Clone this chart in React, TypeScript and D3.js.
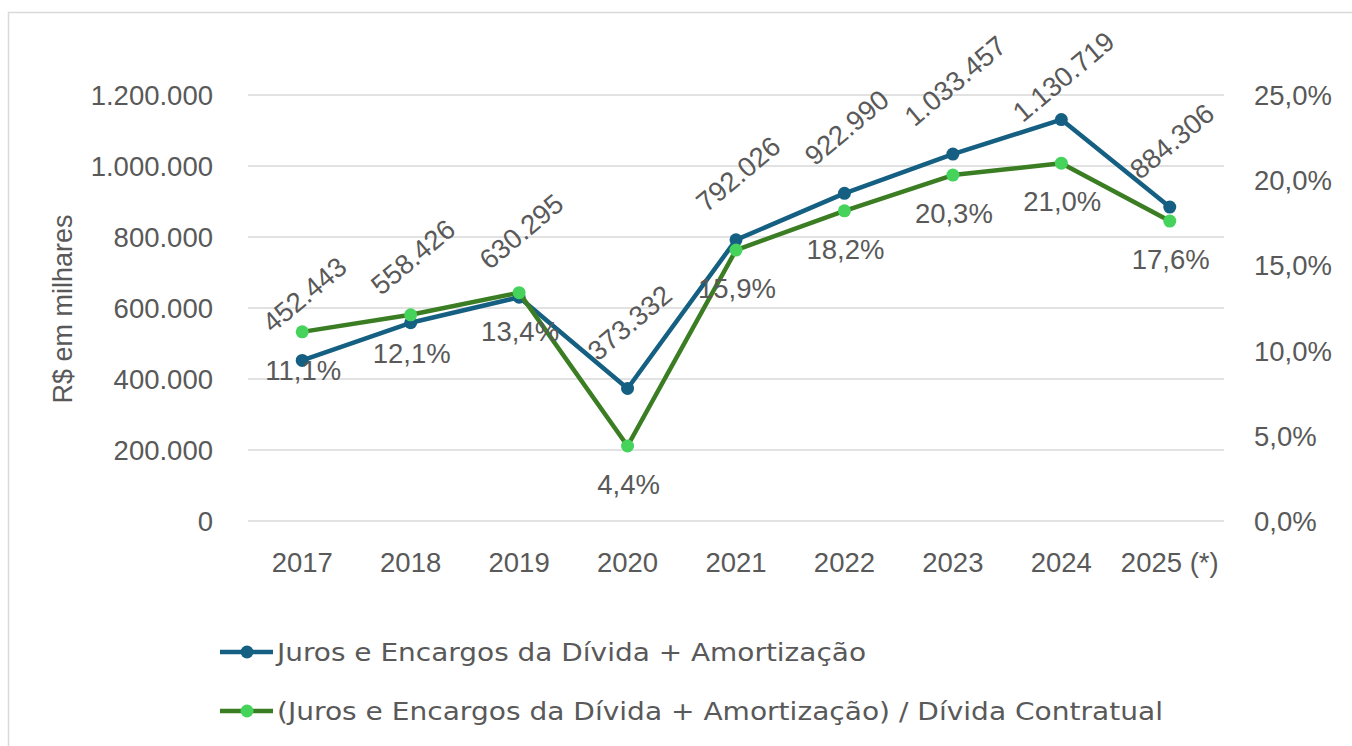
import React from "react";
import * as d3 from "d3";

const categories = ["2017", "2018", "2019", "2020", "2021", "2022", "2023", "2024", "2025 (*)"];
const valores = [452443, 558426, 630295, 373332, 792026, 922990, 1033457, 1130719, 884306];
const percentuais = [11.1, 12.1, 13.4, 4.4, 15.9, 18.2, 20.3, 21.0, 17.6];
const leftTicks = [0, 200000, 400000, 600000, 800000, 1000000, 1200000];
const rightTicks = [0, 5, 10, 15, 20, 25];
const serieNomes = [
  "Juros e Encargos da Dívida + Amortização",
  "(Juros e Encargos da Dívida + Amortização) / Dívida Contratual",
];

const W = 1352;
const H = 746;
const plotLeft = 248;
const plotRight = 1224;
const plotTop = 95;
const plotBottom = 521;

const BLUE = "#156082";
const GREEN_LINE = "#3b7d23";
const GREEN_MARK = "#45d35c";
const TXT = "#595959";
const GRID = "#d9d9d9";
const FONT = "'Liberation Sans', Arial, sans-serif";
const LFONT = "'DejaVu Sans', 'Open Sans', sans-serif";
const FS = 27.5;
const ANG = 40;

const fmtInt = (v: number) => d3.format(",d")(v).replace(/,/g, ".");
const fmtPct = (v: number) => v.toFixed(1).replace(".", ",") + "%";

function labelOffset(s: string) {
  let w = 0;
  for (const ch of s) w += ch === "." ? 0.278 : 0.556;
  w *= FS;
  const h = FS * 1.15;
  const a = (ANG * Math.PI) / 180;
  return (w * Math.sin(a) + h * Math.cos(a)) / 2;
}

export default function App() {
  const x = d3.scalePoint<string>().domain(categories).range([plotLeft, plotRight]).padding(0.5);
  const yL = d3.scaleLinear().domain([0, 1200000]).range([plotBottom, plotTop]);
  const yR = d3.scaleLinear().domain([0, 25]).range([plotBottom, plotTop]);

  const blueLine = d3
    .line<number>()
    .x((_, i) => x(categories[i])!)
    .y((d) => yL(d));
  const greenLine = d3
    .line<number>()
    .x((_, i) => x(categories[i])!)
    .y((d) => yR(d));

  return (
    <svg width={W} height={H} style={{ position: "absolute", left: 0, top: 0, background: "#fff" }}>
      <rect x={8.5} y={12.5} width={1400} height={800} fill="#fff" stroke={GRID} strokeWidth={1.5} />
      {leftTicks.map((t) => (
        <line key={t} x1={plotLeft} x2={plotRight} y1={yL(t)} y2={yL(t)} stroke={GRID} strokeWidth={1.5} />
      ))}
      {leftTicks.map((t) => (
        <text key={"l" + t} x={213} y={yL(t)} dy="0.36em" textAnchor="end" fontFamily={FONT} fontSize={FS} fill={TXT}>
          {fmtInt(t)}
        </text>
      ))}
      {rightTicks.map((t) => (
        <text key={"r" + t} x={1254} y={yR(t)} dy="0.36em" textAnchor="start" fontFamily={FONT} fontSize={FS} fill={TXT}>
          {fmtPct(t)}
        </text>
      ))}
      <text transform={`translate(72,309) rotate(-90)`} textAnchor="middle" fontFamily={FONT} fontSize={27} fill={TXT}>
        R$ em milhares
      </text>
      {categories.map((c) => (
        <text key={c} x={x(c)} y={562} dy="0.36em" textAnchor="middle" fontFamily={FONT} fontSize={FS} fill={TXT}>
          {c}
        </text>
      ))}

      <path d={blueLine(valores)!} fill="none" stroke={BLUE} strokeWidth={4.5} strokeLinejoin="round" />
      {valores.map((v, i) => (
        <circle key={"b" + i} cx={x(categories[i])} cy={yL(v)} r={6.5} fill={BLUE} />
      ))}
      <path d={greenLine(percentuais)!} fill="none" stroke={GREEN_LINE} strokeWidth={4.5} strokeLinejoin="round" />
      {percentuais.map((v, i) => (
        <circle key={"g" + i} cx={x(categories[i])} cy={yR(v)} r={6.5} fill={GREEN_MARK} />
      ))}

      {valores.map((v, i) => {
        const s = fmtInt(v);
        const half = labelOffset(s);
        const cy = Math.max(yL(v) - half - 22, half + 25);
        return (
          <text
            key={"vl" + i}
            transform={`translate(${x(categories[i])! + 2},${cy}) rotate(-${ANG})`}
            textAnchor="middle"
            dy="0.36em"
            fontFamily={FONT}
            fontSize={FS}
            fill={TXT}
          >
            {s}
          </text>
        );
      })}
      {percentuais.map((v, i) => (
        <text
          key={"pl" + i}
          x={x(categories[i])! + 1}
          y={yR(v) + 38}
          dy="0.36em"
          textAnchor="middle"
          fontFamily={FONT}
          fontSize={FS}
          fill={TXT}
        >
          {fmtPct(v)}
        </text>
      ))}

      {serieNomes.map((n, i) => {
        const ly = 652 + i * 59;
        return (
          <g key={n}>
            <line x1={220} x2={273} y1={ly} y2={ly} stroke={i === 0 ? BLUE : GREEN_LINE} strokeWidth={4.5} />
            <circle cx={247} cy={ly} r={6.5} fill={i === 0 ? BLUE : GREEN_MARK} />
            <text
              x={277}
              y={ly}
              dy="0.36em"
              fontFamily={LFONT}
              fontSize={24.5}
              fill={TXT}
              textLength={i === 0 ? 589 : 886}
              lengthAdjust="spacingAndGlyphs"
            >
              {n}
            </text>
          </g>
        );
      })}
    </svg>
  );
}
